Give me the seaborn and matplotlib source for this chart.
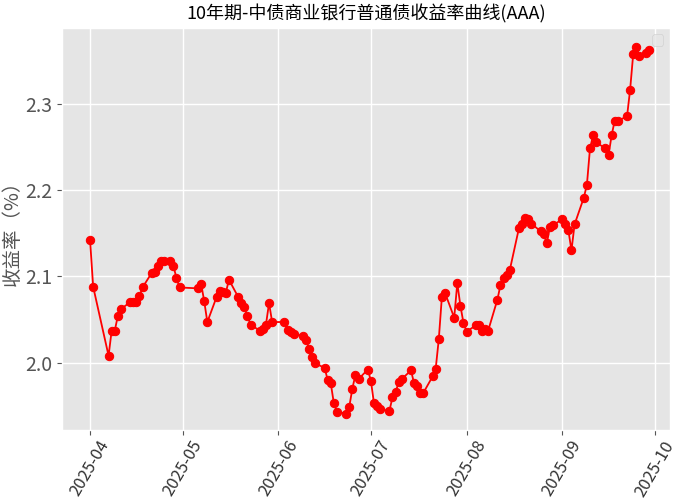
import matplotlib
matplotlib.use("Agg")
import matplotlib.pyplot as plt
import matplotlib.dates as mdates
import seaborn as sns
import pandas as pd

dates = ["2025-04-01","2025-04-02","2025-04-07","2025-04-08","2025-04-09","2025-04-10","2025-04-11",
"2025-04-14","2025-04-15","2025-04-16","2025-04-17","2025-04-18","2025-04-21","2025-04-22","2025-04-23",
"2025-04-24","2025-04-25","2025-04-27","2025-04-28","2025-04-29","2025-04-30",
"2025-05-06","2025-05-07","2025-05-08","2025-05-09","2025-05-12","2025-05-13","2025-05-14","2025-05-15",
"2025-05-16","2025-05-19","2025-05-20","2025-05-21","2025-05-22","2025-05-23","2025-05-26","2025-05-27",
"2025-05-28","2025-05-29","2025-05-30",
"2025-06-03","2025-06-04","2025-06-05","2025-06-06","2025-06-09","2025-06-10","2025-06-11","2025-06-12",
"2025-06-13","2025-06-16","2025-06-17","2025-06-18","2025-06-19","2025-06-20","2025-06-23","2025-06-24",
"2025-06-25","2025-06-26","2025-06-27","2025-06-30",
"2025-07-01","2025-07-02","2025-07-03","2025-07-04","2025-07-07","2025-07-08","2025-07-09","2025-07-10",
"2025-07-11","2025-07-14","2025-07-15","2025-07-16","2025-07-17","2025-07-18","2025-07-21","2025-07-22",
"2025-07-23","2025-07-24","2025-07-25","2025-07-28","2025-07-29","2025-07-30","2025-07-31",
"2025-08-01","2025-08-04","2025-08-05","2025-08-06","2025-08-07","2025-08-08","2025-08-11","2025-08-12",
"2025-08-13","2025-08-14","2025-08-15","2025-08-18","2025-08-19","2025-08-20","2025-08-21","2025-08-22",
"2025-08-25","2025-08-26","2025-08-27","2025-08-28","2025-08-29",
"2025-09-01","2025-09-02","2025-09-03","2025-09-04","2025-09-05","2025-09-08","2025-09-09","2025-09-10",
"2025-09-11","2025-09-12","2025-09-15","2025-09-16","2025-09-17","2025-09-18","2025-09-19","2025-09-22",
"2025-09-23","2025-09-24","2025-09-25","2025-09-26","2025-09-28","2025-09-29"]
yields = [2.142,2.088,2.008,2.037,2.037,2.054,2.062,
2.070,2.070,2.070,2.077,2.087,2.104,2.105,2.112,
2.118,2.118,2.118,2.112,2.098,2.087,
2.086,2.091,2.071,2.047,2.076,2.083,2.082,2.081,
2.096,2.076,2.069,2.064,2.054,2.044,2.037,2.039,
2.044,2.069,2.047,
2.047,2.038,2.036,2.033,2.031,2.026,2.016,2.007,
1.999,1.994,1.980,1.976,1.953,1.943,1.941,1.949,
1.970,1.986,1.981,1.992,
1.979,1.953,1.950,1.946,1.944,1.960,1.966,1.977,
1.981,1.991,1.976,1.973,1.965,1.965,1.984,1.993,
2.027,2.076,2.081,2.052,2.092,2.066,2.046,
2.036,2.043,2.043,2.037,2.039,2.037,2.073,2.090,
2.098,2.101,2.107,2.156,2.161,2.168,2.166,2.161,
2.152,2.149,2.138,2.157,2.159,
2.166,2.161,2.153,2.130,2.160,2.191,2.206,2.248,
2.263,2.255,2.248,2.240,2.263,2.280,2.280,2.285,
2.316,2.357,2.366,2.355,2.358,2.362]

df = pd.DataFrame({"date": pd.to_datetime(dates), "yield": yields})

plt.style.use("ggplot")
sns.set_style({"axes.facecolor": "#E5E5E5"})
plt.rcParams['font.family'] = ['Noto Sans CJK SC', 'DejaVu Sans']
plt.rcParams['axes.unicode_minus'] = False

fig, ax = plt.subplots(figsize=(6.77, 5.0), dpi=100)
sns.lineplot(data=df, x="date", y="yield", ax=ax, color="red", marker="o",
             markersize=6, markeredgecolor="red", linewidth=1.3, label="_nolegend_")
ax.set_title("10年期-中债商业银行普通债收益率曲线(AAA)", fontsize=13, color="black")
ax.set_xlabel("")
ax.set_ylabel("收益率（%）", fontsize=14, color="#555555", labelpad=2)
ax.xaxis.set_major_locator(mdates.MonthLocator())
ax.xaxis.set_major_formatter(mdates.DateFormatter("%Y-%m"))
ax.tick_params(axis="x", labelsize=12, rotation=60, colors="#555555", pad=2)
ax.tick_params(axis="y", labelsize=14, colors="#555555")
for t in ax.get_xticklabels():
    t.set_color("#333333")
ax.set_yticks([2.0, 2.1, 2.2, 2.3])
ax.set_xlim(pd.Timestamp("2025-03-23"), pd.Timestamp("2025-10-06"))
ax.set_ylim(1.922, 2.388)
ax.grid(True, color="white", linewidth=1)
leg = ax.legend(handles=[], loc="upper right")
fig.subplots_adjust(left=0.092, right=0.99, top=0.945, bottom=0.14)
fig.savefig("out.png", dpi=100)
